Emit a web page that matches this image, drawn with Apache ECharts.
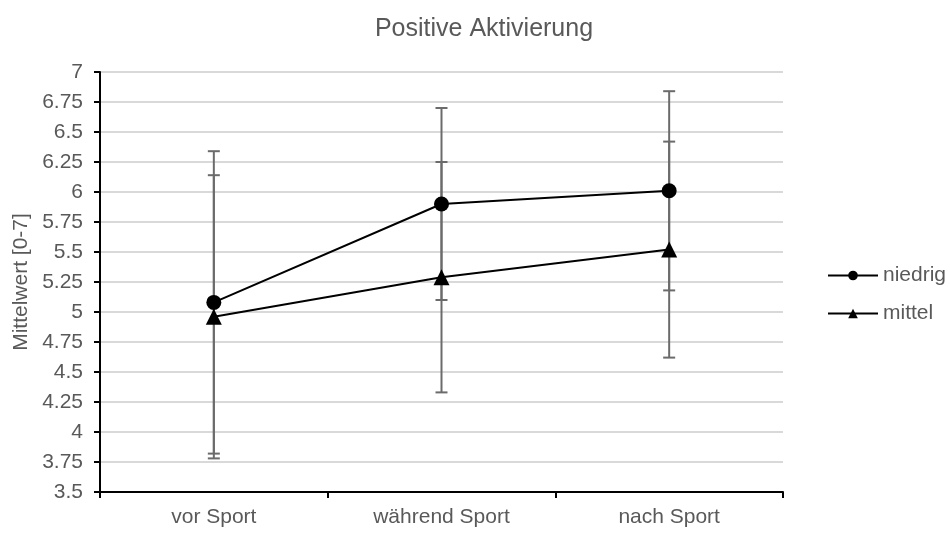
<!DOCTYPE html>
<html>
<head>
<meta charset="utf-8">
<script src="https://cdn.jsdelivr.net/npm/echarts@6/dist/echarts.min.js"></script>
<style>
  html, body { margin: 0; padding: 0; background: #fff; }
  #chart { width: 950px; height: 533px; }
</style>
</head>
<body>
<div id="chart"></div>
<script>
// Zeitpunkte und Mittelwerte je Gruppe
var categories = ['vor Sport', 'während Sport', 'nach Sport'];
var niedrigMean = [5.08, 5.90, 6.01];
var niedrigSD   = [1.26, 0.80, 0.83];
var mittelMean  = [4.96, 5.29, 5.52];
var mittelSD    = [1.18, 0.96, 0.90];
var yTicks = [3.5, 3.75, 4, 4.25, 4.5, 4.75, 5, 5.25, 5.5, 5.75, 6, 6.25, 6.5, 6.75, 7];

var textColor = '#595959';
var font = 'Arial, "Liberation Sans", sans-serif';

function errorData(mean, sd) {
  return mean.map(function (m, i) { return [i, m - sd[i], m + sd[i]]; });
}

// Fehlerbalken: senkrechte Linie mit Querstrichen an beiden Enden
function renderError(params, api) {
  var x = api.value(0);
  var lo = api.coord([x, api.value(1)]);
  var hi = api.coord([x, api.value(2)]);
  var half = 6;
  var style = { stroke: '#6b6b6b', lineWidth: 2 };
  return {
    type: 'group',
    children: [
      { type: 'line', shape: { x1: lo[0], y1: lo[1], x2: hi[0], y2: hi[1] }, style: style },
      { type: 'line', shape: { x1: lo[0] - half, y1: lo[1], x2: lo[0] + half, y2: lo[1] }, style: style },
      { type: 'line', shape: { x1: hi[0] - half, y1: hi[1], x2: hi[0] + half, y2: hi[1] }, style: style }
    ]
  };
}

var chart = echarts.init(document.getElementById('chart'), null, { renderer: 'canvas' });
chart.setOption({
  animation: false,
  backgroundColor: '#fff',
  title: {
    text: 'Positive Aktivierung',
    left: 479, textAlign: 'center', top: 12,
    textStyle: { color: textColor, fontSize: 25, fontWeight: 'normal', fontFamily: font }
  },
  legend: {
    orient: 'vertical',
    left: 822, top: 260,
    itemWidth: 50, itemHeight: 12, itemGap: 17,
    textStyle: { color: textColor, fontSize: 21, fontFamily: font, padding: [0, 0, 0, 0] },
    data: ['niedrig', 'mittel']
  },
  grid: { left: 100, right: 167, top: 72, bottom: 41 },
  xAxis: {
    type: 'category',
    data: categories,
    boundaryGap: true,
    axisLine: { lineStyle: { color: '#000', width: 2 } },
    axisTick: { show: true, alignWithLabel: false, length: 6, lineStyle: { color: '#000', width: 2 } },
    axisLabel: { color: textColor, fontSize: 21, fontFamily: font, margin: 15 },
    splitLine: { show: false }
  },
  yAxis: {
    type: 'value',
    min: yTicks[0], max: yTicks[yTicks.length - 1], interval: 0.25,
    name: 'Mittelwert [0-7]',
    nameLocation: 'middle', nameGap: 66, nameRotate: 90,
    nameTextStyle: { color: textColor, fontSize: 21, fontFamily: font },
    axisLine: { show: true, lineStyle: { color: '#000', width: 2 } },
    axisTick: { show: true, length: 6, lineStyle: { color: '#000', width: 2 } },
    axisLabel: { color: textColor, fontSize: 21, fontFamily: font, margin: 17 },
    splitLine: { lineStyle: { color: '#d9d9d9', width: 2 } }
  },
  series: [
    {
      type: 'custom', name: 'err-niedrig', renderItem: renderError,
      data: errorData(niedrigMean, niedrigSD), z: 1, silent: true
    },
    {
      type: 'custom', name: 'err-mittel', renderItem: renderError,
      data: errorData(mittelMean, mittelSD), z: 1, silent: true
    },
    {
      type: 'line', name: 'niedrig', data: niedrigMean, z: 3,
      symbol: 'circle', symbolSize: 15,
      lineStyle: { color: '#000', width: 2 },
      itemStyle: { color: '#000' }
    },
    {
      type: 'line', name: 'mittel', data: mittelMean, z: 3,
      symbol: 'triangle', symbolSize: 16,
      lineStyle: { color: '#000', width: 2 },
      itemStyle: { color: '#000' }
    }
  ]
});
</script>
</body>
</html>
